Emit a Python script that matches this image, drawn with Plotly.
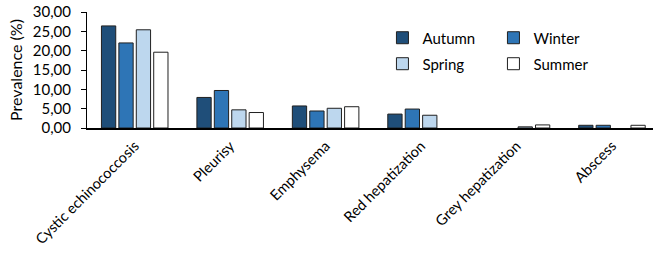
import plotly.graph_objects as go

categories = ["Cystic echinococcosis", "Pleurisy", "Emphysema",
              "Red hepatization", "Grey hepatization", "Abscess"]
autumn = [26.4, 7.9, 5.7, 3.6, None, 0.7]
winter = [22.0, 9.7, 4.4, 4.9, None, 0.7]
spring = [25.4, 4.7, 5.1, 3.3, 0.3, None]
summer = [19.6, 4.0, 5.5, None, 0.8, 0.7]
series_names = ["Autumn", "Winter", "Spring", "Summer"]
series_colors = ["#1F4E79", "#2E75B6", "#BDD7EE", "#FFFFFF"]
y_ticks = [0, 5, 10, 15, 20, 25, 30]

FONT = "Lato"
fig = go.Figure()
for name, vals, col, leg in zip(series_names, [autumn, winter, spring, summer],
                                series_colors, ["legend", "legend", "legend2", "legend2"]):
    fig.add_trace(go.Bar(
        x=categories, y=vals, name=name, legend=leg,
        marker=dict(color=col, line=dict(color="#202020", width=1)),
    ))

fig.update_layout(
    width=653, height=254,
    margin=dict(l=87, r=0, t=12, b=126),
    paper_bgcolor="white", plot_bgcolor="white",
    barmode="group", bargap=0.27, bargroupgap=0.18,
    separators=",.",
    font=dict(family=FONT, size=15, color="#000000"),
    showlegend=True,
    legend=dict(orientation="h", x=0.522, y=0.776, xanchor="left", yanchor="middle",
                entrywidth=66, bgcolor="rgba(0,0,0,0)", font=dict(size=15),
                tracegroupgap=0),
    legend2=dict(orientation="h", x=0.522, y=0.552, xanchor="left", yanchor="middle",
                 entrywidth=66, bgcolor="rgba(0,0,0,0)", font=dict(size=15),
                 tracegroupgap=0),
)
fig.update_xaxes(
    range=[-0.5, 5.43], showline=True, linecolor="black", linewidth=1.5,
    tickangle=-45, ticks="outside", ticklen=2, tickcolor="rgba(0,0,0,0)",
    showgrid=False, tickfont=dict(size=14.6), automargin=False,
)
fig.update_yaxes(
    range=[0, 30], tickvals=y_ticks, tickformat=".2f",
    showline=True, linecolor="black", linewidth=1,
    ticks="outside", ticklen=5, tickcolor="black", showgrid=False,
    ticklabelstandoff=7,
    tickfont=dict(size=15), automargin=False,
    title=dict(text="Prevalence (%)", font=dict(size=16), standoff=6),
)
fig.write_html("out.html", config={"displayModeBar": False},
               post_script="document.body.style.margin='0px';")
